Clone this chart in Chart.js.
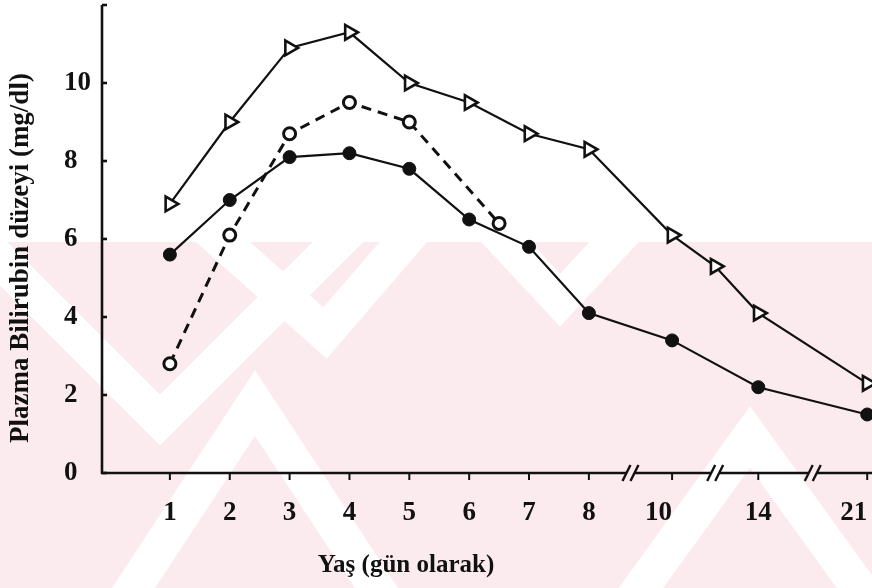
<!DOCTYPE html>
<html>
<head>
<meta charset="utf-8">
<script src="https://cdn.jsdelivr.net/npm/chart.js@4.4.0/dist/chart.umd.min.js"></script>
<style>
  html, body { margin: 0; padding: 0; background: #ffffff; }
  #wrap { width: 872px; height: 588px; position: relative; }
</style>
</head>
<body>
<div id="wrap"><canvas id="chart" width="872" height="588"></canvas></div>
<script>
// Plasma bilirubin by age (days)
const daysTriangle = [1, 2, 3, 4, 5, 6, 7, 8, 10, 12, 14, 21];
const bilirubinTriangle = [6.9, 9.0, 10.9, 11.3, 10.0, 9.5, 8.7, 8.3, 6.1, 5.3, 4.1, 2.3];

const daysFilled = [1, 2, 3, 4, 5, 6, 7, 8, 10, 14, 21];
const bilirubinFilled = [5.6, 7.0, 8.1, 8.2, 7.8, 6.5, 5.8, 4.1, 3.4, 2.2, 1.5];

const daysOpen = [1, 2, 3, 4, 5, 6.5];
const bilirubinOpen = [2.8, 6.1, 8.7, 9.5, 9.0, 6.4];

const xTickDays = [1, 2, 3, 4, 5, 6, 7, 8, 10, 14, 21];
const xTickLabels = ['1', '2', '3', '4', '5', '6', '7', '8', '10\u2002\u2002', '14', '21\u2002\u2002'];
const yTickValues = [0, 2, 4, 6, 8, 10, 12];
const yTickLabels = ['0', '2', '4', '6', '8', '10', ''];
const breakDays = [9, 12, 17.5];

const xTitle = 'Yaş (gün olarak)';
const yTitle = 'Plazma Bilirubin düzeyi (mg/dl)';

// Broken day axis: one unit per day up to day 8, compressed segments after it
const segDays = [0, 8, 10, 14, 21];
const segUnits = [0, 8, 9.39, 10.83, 12.65];
function dayToUnit(d) {
  for (let i = 1; i < segDays.length; i++) {
    if (d <= segDays[i] || i === segDays.length - 1) {
      const t = (d - segDays[i - 1]) / (segDays[i] - segDays[i - 1]);
      return segUnits[i - 1] + t * (segUnits[i] - segUnits[i - 1]);
    }
  }
}
const toPoints = (days, vals) => days.map((d, i) => ({ x: dayToUnit(d), y: vals[i] }));

const INK = '#111111';
const SERIF = '"Liberation Serif", "DejaVu Serif", serif';

// Faint striped background band in the lower part of the page
const backdrop = {
  id: 'backdrop',
  beforeDraw(chart) {
    const ctx = chart.ctx;
    const W = chart.width, H = chart.height;
    ctx.save();
    ctx.fillStyle = '#ffffff';
    ctx.fillRect(0, 0, W, H);
    const top = 242;
    ctx.beginPath();
    ctx.rect(0, top, W, H - top);
    ctx.clip();
    ctx.fillStyle = '#fcebee';
    ctx.fillRect(0, top, W, H - top);
    ctx.strokeStyle = '#ffffff';
    ctx.lineCap = 'butt';
    ctx.lineJoin = 'miter';
    const chevrons = [
      [[-60, 200], [160, 420], [380, 200]],
      [[120, 150], [325, 333], [560, 60]],
      [[60, 700], [255, 403], [450, 700]],
      [[420, 150], [560, 300], [700, 150]],
      [[560, 700], [750, 437], [940, 700]],
      [[650, 150], [900, 0]]
    ];
    ctx.lineWidth = 36;
    chevrons.forEach(p => {
      ctx.beginPath();
      ctx.moveTo(p[0][0], p[0][1]);
      for (let i = 1; i < p.length; i++) ctx.lineTo(p[i][0], p[i][1]);
      ctx.stroke();
    });
    ctx.restore();
  }
};

// Axis lines with break marks, inward/outward tick marks, and axis titles
const axesDecor = {
  id: 'axesDecor',
  afterDraw(chart) {
    const ctx = chart.ctx;
    const xs = chart.scales.x, ys = chart.scales.y;
    const area = chart.chartArea;
    const y0 = area.bottom, xL = area.left, xR = area.right;
    ctx.save();
    ctx.strokeStyle = INK;
    ctx.lineWidth = 2.6;
    ctx.lineCap = 'butt';

    // y axis
    ctx.beginPath();
    ctx.moveTo(xL, area.top);
    ctx.lineTo(xL, y0 + 1);
    ctx.stroke();
    ys.ticks.forEach(t => {
      const py = ys.getPixelForValue(t.value);
      ctx.beginPath();
      ctx.moveTo(xL, py);
      ctx.lineTo(xL + 5, py);
      ctx.stroke();
    });

    // x axis, interrupted at the breaks
    const gap = 9;
    const breaksPx = breakDays.map(d => xs.getPixelForValue(dayToUnit(d)));
    let start = xL - 1;
    ctx.beginPath();
    breaksPx.forEach(bx => {
      ctx.moveTo(start, y0);
      ctx.lineTo(bx - gap / 2, y0);
      start = bx + gap / 2;
    });
    ctx.moveTo(start, y0);
    ctx.lineTo(xR, y0);
    ctx.stroke();
    ctx.lineWidth = 2.4;
    breaksPx.forEach(bx => {
      [-4, 4].forEach(off => {
        ctx.beginPath();
        ctx.moveTo(bx + off - 4, y0 + 8);
        ctx.lineTo(bx + off + 4, y0 - 8);
        ctx.stroke();
      });
    });
    ctx.lineWidth = 2;
    xTickDays.forEach(d => {
      const px = xs.getPixelForValue(dayToUnit(d));
      ctx.beginPath();
      ctx.moveTo(px, y0);
      ctx.lineTo(px, y0 + 7);
      ctx.stroke();
    });

    // titles
    ctx.fillStyle = INK;
    ctx.textAlign = 'center';
    ctx.textBaseline = 'middle';
    ctx.font = 'bold 25px ' + SERIF;
    ctx.fillText(xTitle, 406, 566);
    ctx.translate(21, 258);
    ctx.rotate(-Math.PI / 2);
    ctx.font = 'bold 27px ' + SERIF;
    ctx.fillText(yTitle, 0, 0);
    ctx.restore();
  }
};

const solidLine = { borderColor: INK, borderWidth: 2.2, showLine: true, tension: 0, clip: false };

new Chart(document.getElementById('chart'), {
  type: 'scatter',
  data: {
    datasets: [
      {
        ...solidLine,
        data: toPoints(daysTriangle, bilirubinTriangle),
        pointStyle: 'triangle',
        rotation: 90,
        radius: 8.5,
        pointBorderWidth: 2.6,
        pointBackgroundColor: '#ffffff',
        pointBorderColor: INK
      },
      {
        ...solidLine,
        data: toPoints(daysFilled, bilirubinFilled),
        pointStyle: 'circle',
        radius: 6.5,
        pointBorderWidth: 1,
        pointBackgroundColor: INK,
        pointBorderColor: INK
      },
      {
        ...solidLine,
        borderWidth: 3,
        borderDash: [10, 7],
        data: toPoints(daysOpen, bilirubinOpen),
        pointStyle: 'circle',
        radius: 6,
        pointBorderWidth: 3,
        pointBackgroundColor: '#ffffff',
        pointBorderColor: INK
      }
    ]
  },
  options: {
    responsive: false,
    animation: false,
    devicePixelRatio: 1,
    layout: { autoPadding: false, padding: { left: 64, top: 5, right: 0, bottom: 0 } },
    plugins: { legend: { display: false }, tooltip: { enabled: false } },
    scales: {
      x: {
        type: 'linear',
        min: -0.134,
        max: 12.73,
        afterFit: s => { s.height = 115; s.paddingLeft = 0; s.paddingRight = 0; },
        afterBuildTicks: s => { s.ticks = xTickDays.map(d => ({ value: dayToUnit(d) })); },
        grid: { display: false, drawTicks: false },
        border: { display: false },
        ticks: {
          autoSkip: false,
          maxRotation: 0,
          padding: 24,
          color: INK,
          font: { family: SERIF, size: 27, weight: 'bold' },
          callback: (v, i) => xTickLabels[i]
        }
      },
      y: {
        type: 'linear',
        min: 0,
        max: 12,
        afterFit: s => { s.width = 38; s.paddingTop = 0; s.paddingBottom = 0; },
        afterBuildTicks: s => { s.ticks = yTickValues.map(v => ({ value: v })); },
        grid: { display: false, drawTicks: false },
        border: { display: false },
        ticks: {
          autoSkip: false,
          crossAlign: 'far',
          padding: 0,
          color: INK,
          font: { family: SERIF, size: 27, weight: 'bold' },
          callback: (v, i) => yTickLabels[i]
        }
      }
    }
  },
  plugins: [backdrop, axesDecor]
});
</script>
</body>
</html>
